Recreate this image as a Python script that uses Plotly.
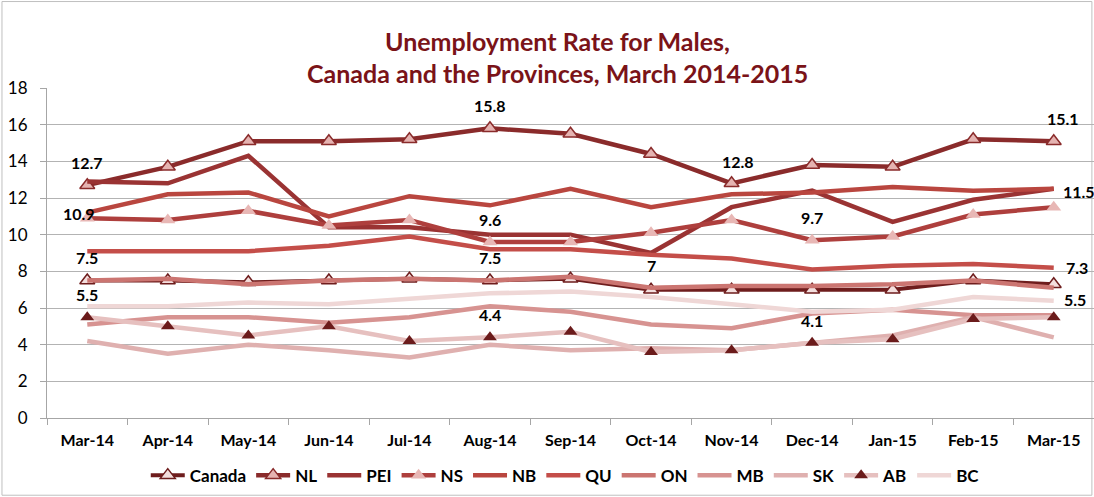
import plotly.graph_objects as go

months = ["Mar-14", "Apr-14", "May-14", "Jun-14", "Jul-14", "Aug-14", "Sep-14",
          "Oct-14", "Nov-14", "Dec-14", "Jan-15", "Feb-15", "Mar-15"]

canada = [7.5, 7.5, 7.4, 7.5, 7.6, 7.5, 7.6, 7.0, 7.0, 7.0, 7.0, 7.5, 7.3]
nl     = [12.7, 13.7, 15.1, 15.1, 15.2, 15.8, 15.5, 14.4, 12.8, 13.8, 13.7, 15.2, 15.1]
pei    = [12.9, 12.8, 14.3, 10.4, 10.4, 10.0, 10.0, 9.0, 11.5, 12.4, 10.7, 11.9, 12.5]
ns     = [10.9, 10.8, 11.3, 10.5, 10.8, 9.6, 9.6, 10.1, 10.8, 9.7, 9.9, 11.1, 11.5]
nb     = [11.2, 12.2, 12.3, 11.0, 12.1, 11.6, 12.5, 11.5, 12.2, 12.3, 12.6, 12.4, 12.5]
qu     = [9.1, 9.1, 9.1, 9.4, 9.9, 9.2, 9.2, 8.9, 8.7, 8.1, 8.3, 8.4, 8.2]
on     = [7.5, 7.6, 7.3, 7.5, 7.6, 7.5, 7.7, 7.1, 7.2, 7.2, 7.3, 7.5, 7.1]
mb     = [5.1, 5.5, 5.5, 5.2, 5.5, 6.1, 5.8, 5.1, 4.9, 5.7, 5.9, 5.6, 5.6]
sk     = [4.2, 3.5, 4.0, 3.7, 3.3, 4.0, 3.7, 3.8, 3.7, 4.1, 4.5, 5.5, 4.4]
ab     = [5.5, 5.0, 4.5, 5.0, 4.2, 4.4, 4.7, 3.6, 3.7, 4.1, 4.3, 5.4, 5.5]
bc     = [6.1, 6.1, 6.3, 6.2, 6.5, 6.8, 6.9, 6.6, 6.2, 5.8, 5.9, 6.6, 6.4]

series_names = ["Canada", "NL", "PEI", "NS", "NB", "QU", "ON", "MB", "SK", "AB", "BC"]
series_values = [canada, nl, pei, ns, nb, qu, on, mb, sk, ab, bc]

# styling (kept separate from data)
line_colors = {
    "Canada": "#6E1D1D", "NL": "#8A2B2B", "PEI": "#9A3333", "NS": "#AE3F3D",
    "NB": "#B9463F", "QU": "#C44E49", "ON": "#CB7571", "MB": "#D79391",
    "SK": "#DFB0AF", "AB": "#E6C0BF", "BC": "#EFD7D6",
}
line_widths = {"Canada": 4}
markers = {
    "Canada": dict(symbol="triangle-up", size=13, color="#F3DEDD",
                   line=dict(color="#6E1D1D", width=1.5)),
    "NL": dict(symbol="triangle-up", size=13, color="#E5B3B1",
               line=dict(color="#8A2B2B", width=1.5)),
    "NS": dict(symbol="triangle-up", size=13, color="#E8B7B5",
               line=dict(color="#E8B7B5", width=0)),
    "AB": dict(symbol="triangle-up", size=12, color="#6B1B1B",
               line=dict(color="#6B1B1B", width=0)),
}

# data labels: (series, month index, xshift, yshift)
label_spec = [
    ("NL", 0, 0, 23), ("NS", 0, -8, 5), ("Canada", 0, 0, 23), ("AB", 0, 0, 23),
    ("NL", 5, 0, 23), ("NS", 5, 0, 23), ("Canada", 5, 0, 23), ("AB", 5, 0, 23),
    ("Canada", 7, 0, 24), ("NL", 8, 6, 22), ("NS", 9, 0, 23), ("AB", 9, 0, 22),
    ("NL", 12, 9, 23), ("NS", 12, 25, 16), ("Canada", 12, 23, 17), ("AB", 12, 21, 18),
]

fig = go.Figure()
for name, vals in zip(series_names, series_values):
    mk = markers.get(name)
    fig.add_trace(go.Scatter(
        x=months, y=vals, name=name,
        mode="lines+markers" if mk else "lines",
        line=dict(color=line_colors[name], width=line_widths.get(name, 4.5)),
        marker=mk if mk else None,
    ))

lookup = dict(zip(series_names, series_values))
for name, idx, xs, ys in label_spec:
    v = lookup[name][idx]
    txt = ("%g" % v)
    fig.add_annotation(x=months[idx], y=v, text="<b>%s</b>" % txt, showarrow=False,
                       xshift=xs, yshift=ys, xref="x", yref="y",
                       xanchor="center", yanchor="middle",
                       font=dict(family="Lato", size=16, color="#000000"))

title_color = "#7A1318"
fig.add_annotation(x=0.4876, y=1.1424, xref="paper", yref="paper", showarrow=False,
                   xanchor="center", yanchor="middle",
                   text="<b>Unemployment Rate for Males,</b>",
                   font=dict(family="Lato", size=25, color=title_color))
fig.add_annotation(x=0.4876, y=1.0455, xref="paper", yref="paper", showarrow=False,
                   xanchor="center", yanchor="middle",
                   text="<b>Canada and the Provinces, March 2014-2015</b>",
                   font=dict(family="Lato", size=25, color=title_color))

# chart border
fig.add_shape(type="rect", xref="paper", yref="paper",
              x0=-0.0430, x1=0.998, y0=-0.234, y1=1.262,
              line=dict(color="#BFBFBF", width=1), layer="below")

fig.update_layout(
    width=1094, height=497,
    margin=dict(l=47, r=0, t=88, b=79),
    paper_bgcolor="white", plot_bgcolor="white",
    showlegend=True,
    legend=dict(orientation="h", x=0.495, xanchor="center", y=-0.12, yanchor="top",
                font=dict(family="Lato", size=17, color="#000000", weight="bold"),
                itemwidth=34, tracegroupgap=0, bgcolor="rgba(0,0,0,0)"),
    font=dict(family="Lato", color="#000000"),
    xaxis=dict(type="category", range=[-0.5, 12.5], showgrid=False,
               showline=True, linecolor="#A6A6A6", linewidth=1,
               ticks="outside", tickson="boundaries", ticklen=6, tickcolor="#A6A6A6",
               tickfont=dict(family="Lato", size=16, color="#000000", weight="bold"),
               ticklabelstandoff=8, zeroline=False),
    yaxis=dict(range=[0, 18], dtick=2, showgrid=True, gridcolor="#B3B3B3", gridwidth=1,
               showline=True, linecolor="#A6A6A6", linewidth=1,
               ticks="outside", ticklen=6, tickcolor="#A6A6A6",
               tickfont=dict(family="Lato", size=17, color="#000000"),
               ticklabelstandoff=9, zeroline=False),
)

fig.write_html("out.html")
